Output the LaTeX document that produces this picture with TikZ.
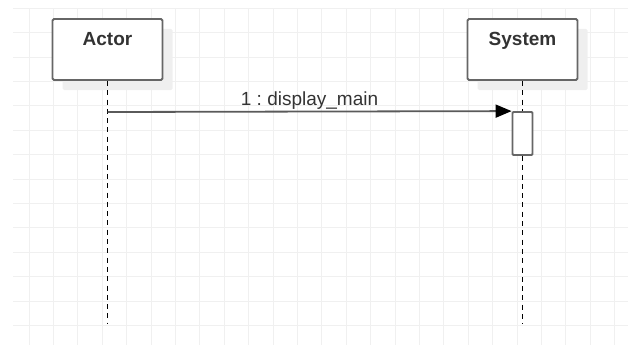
\documentclass[tikz,border=0pt]{standalone}
\usepackage{fontspec}
\setmainfont{Liberation Sans}
\usetikzlibrary{arrows.meta,shadows}
\definecolor{gridc}{HTML}{F0F0F0}
\definecolor{boxline}{HTML}{666666}
\definecolor{msgline}{HTML}{5A5A5A}
\definecolor{txtc}{HTML}{333333}
\definecolor{shadowc}{HTML}{EFEFEF}
\tikzset{
  lifebox/.style={draw=boxline, line width=1.8pt, fill=white, rounded corners=1.5pt,
    minimum width=110pt, minimum height=61pt, inner sep=0pt,
    drop shadow={shadow xshift=10pt, shadow yshift=-10pt, fill=shadowc, opacity=1}},
  boxtitle/.style={font=\fontsize{19}{22}\selectfont\bfseries, text=txtc, anchor=base, inner sep=0pt},
  actbox/.style={draw=boxline, line width=1.8pt, fill=white, rounded corners=1pt,
    minimum width=20pt, minimum height=43pt, inner sep=0pt},
  lifeline/.style={draw=black, line width=1.5pt, dash pattern=on 5pt off 4.3pt},
  msg/.style={draw=msgline, line width=1.8pt, -{Triangle[length=16pt,width=13pt,color=black]}},
  msglabel/.style={font=\fontsize{19}{22}\selectfont\frenchspacing, text=txtc, anchor=base, inner sep=0pt},
}
\begin{document}
\begin{tikzpicture}[x=1pt,y=-1pt]
\useasboundingbox (0,0) rectangle (628,345);
% grid
\foreach \k in {0,...,24} {
  \draw[gridc, line width=1pt] (29+24.4*\k,8.3) -- (29+24.4*\k,345);
}
\foreach \k in {0,...,13} {
  \draw[gridc, line width=1pt] (13,8.3+24.4*\k) -- (628,8.3+24.4*\k);
}
% participants
\node[lifebox] (actor) at (107.5,49.5) {};
\node[boxtitle] (actortitle) at ([yshift=-27.5pt]actor.north) {Actor};
\node[lifebox] (system) at (522.5,49.5) {};
\node[boxtitle] (systemtitle) at ([yshift=-27.5pt]system.north) {System};
% activation
\node[actbox] (act) at (522.5,133.5) {};
% lifelines
\coordinate (actorend) at (107.5,324);
\coordinate (systemend) at (522.5,324);
\coordinate (a1) at (107.5,112);
\draw[lifeline] (actor.south) -- (actorend);
\draw[lifeline] (system.south) -- (act.north);
\draw[lifeline] (act.south) -- (systemend);
% message
\draw[msg] (a1) -- (act.north west)
  node[msglabel, pos=0.5, yshift=6pt] (m1) {1 : display\_main};
\end{tikzpicture}
\end{document}
